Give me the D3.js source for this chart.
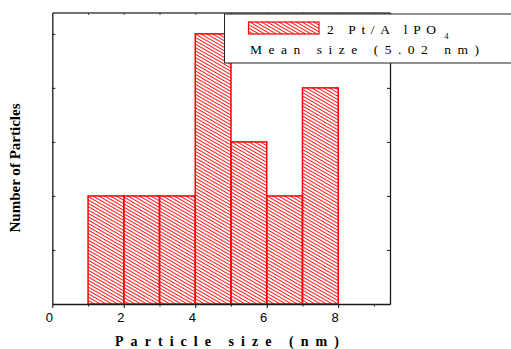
<!DOCTYPE html>
<html>
<head>
<meta charset="utf-8">
<script src="https://cdn.jsdelivr.net/npm/d3@7"></script>
<style>
  html, body { margin: 0; padding: 0; background: #fff; }
  svg { display: block; }
</style>
</head>
<body>
<svg id="chart" width="511" height="349"></svg>
<script>
// ---- data ----
const binStarts = [1, 2, 3, 4, 5, 6, 7];
const binEnds   = [2, 3, 4, 5, 6, 7, 8];
const counts    = [2, 2, 2, 5, 3, 2, 4];
const xMajorTicks = [0, 2, 4, 6, 8];
const xMinorTicks = [1, 3, 5, 7, 9];
const yTicks = [1, 2, 3, 4, 5];
const seriesLabel = "2 Pt/A lPO";
const seriesSub = "4";
const meanLabel = "Mean size (5.02 nm)";
const xTitle = "Particle size (nm)";
const yTitle = "Number of Particles";

// ---- layout ----
const svg = d3.select("#chart");
const L = 52.3, R = 390, T = 12.5, B = 304;
const x = d3.scaleLinear().domain([0, 9.45]).range([L, R]);
const y = d3.scaleLinear().domain([0, 5.395]).range([B, T]);
const red = "#ff0000";
const axisColor = "#1a1a1a";

// hatch pattern
const defs = svg.append("defs");
const pat = defs.append("pattern")
  .attr("id", "hatch")
  .attr("patternUnits", "userSpaceOnUse")
  .attr("width", 6).attr("height", 2.9)
  .attr("patternTransform", "rotate(30)");
pat.append("line")
  .attr("x1", 0).attr("y1", 1.45).attr("x2", 6).attr("y2", 1.45)
  .attr("stroke", red).attr("stroke-width", 0.9);

// bars
const bins = binStarts.map((s, i) => ({ s, e: binEnds[i], c: counts[i] }));
svg.append("g").selectAll("rect").data(bins).join("rect")
  .attr("x", d => x(d.s))
  .attr("y", d => y(d.c))
  .attr("width", d => x(d.e) - x(d.s))
  .attr("height", d => y(0) - y(d.c))
  .attr("fill", "url(#hatch)")
  .attr("stroke", red)
  .attr("stroke-width", 1.5);

// frame axes
const axBottom = d3.axisBottom(x).tickValues(xMajorTicks).tickSize(4).tickSizeOuter(0).tickFormat(d3.format("d"));
const gB = svg.append("g").attr("transform", `translate(0,${B})`).call(axBottom);
gB.select(".domain").attr("stroke", axisColor).attr("stroke-width", 1.3);
gB.selectAll(".tick line").attr("stroke", axisColor).attr("stroke-width", 1.1);
gB.selectAll(".tick text")
  .attr("font-family", "Liberation Sans, Arial, sans-serif")
  .attr("font-size", 13).attr("fill", "#000")
  .attr("dx", -3.5).attr("dy", 0).attr("y", 17.5);

const axBottomMinor = d3.axisBottom(x).tickValues(xMinorTicks).tickSize(2.5).tickFormat("");
const gBm = svg.append("g").attr("transform", `translate(0,${B})`).call(axBottomMinor);
gBm.select(".domain").remove();
gBm.selectAll(".tick line").attr("stroke", axisColor).attr("stroke-width", 1);

const axTop = d3.axisTop(x).tickValues(d3.range(1, 10)).tickSize(-2.5).tickSizeOuter(0).tickFormat("");
const gT = svg.append("g").attr("transform", `translate(0,${T})`).call(axTop);
gT.select(".domain").attr("stroke", "#444").attr("stroke-width", 1.3);
gT.selectAll(".tick line").attr("stroke", "#444").attr("stroke-width", 1);

const axLeft = d3.axisLeft(y).tickValues(yTicks).tickSize(-3).tickSizeOuter(0).tickFormat("");
const gL = svg.append("g").attr("transform", `translate(${L},0)`).call(axLeft);
gL.select(".domain").attr("stroke", axisColor).attr("stroke-width", 1.3);
gL.selectAll(".tick line").attr("stroke", axisColor).attr("stroke-width", 1);

const axRight = d3.axisRight(y).tickValues(yTicks).tickSize(-3).tickSizeOuter(0).tickFormat("");
const gR = svg.append("g").attr("transform", `translate(${R},0)`).call(axRight);
gR.select(".domain").attr("stroke", axisColor).attr("stroke-width", 1.3);
gR.selectAll(".tick line").attr("stroke", axisColor).attr("stroke-width", 1);

// legend box (extends past right edge)
const lg = svg.append("g");
lg.append("rect")
  .attr("x", 224.5).attr("y", 14).attr("width", 300).attr("height", 49)
  .attr("fill", "#fff").attr("stroke", "#222").attr("stroke-width", 1);
lg.append("rect")
  .attr("x", 248.5).attr("y", 22).attr("width", 70.5).attr("height", 12)
  .attr("fill", "url(#hatch)").attr("stroke", red).attr("stroke-width", 1.2);
lg.append("text")
  .attr("x", 327).attr("y", 33.5)
  .attr("font-family", "Liberation Serif, Times New Roman, serif")
  .attr("font-size", 13.5).attr("fill", "#000")
  .attr("textLength", 109).attr("lengthAdjust", "spacing")
  .attr("xml:space", "preserve")
  .text(seriesLabel);
lg.append("text")
  .attr("x", 444.5).attr("y", 38.5)
  .attr("font-family", "Liberation Serif, Times New Roman, serif")
  .attr("font-size", 8).attr("fill", "#000")
  .text(seriesSub);
lg.append("text")
  .attr("x", 250).attr("y", 53.5)
  .attr("font-family", "Liberation Serif, Times New Roman, serif")
  .attr("font-size", 13.5).attr("fill", "#000")
  .attr("textLength", 229).attr("lengthAdjust", "spacing")
  .attr("xml:space", "preserve")
  .text(meanLabel);

// axis titles
svg.append("text")
  .attr("x", 115).attr("y", 345.5)
  .attr("font-family", "Liberation Serif, Times New Roman, serif")
  .attr("font-weight", "bold").attr("font-size", 14).attr("fill", "#000")
  .attr("textLength", 224).attr("lengthAdjust", "spacing")
  .text(xTitle);
svg.append("text")
  .attr("transform", "translate(20,168) rotate(-90)")
  .attr("text-anchor", "middle")
  .attr("font-family", "Liberation Serif, Times New Roman, serif")
  .attr("font-weight", "bold").attr("font-size", 14).attr("fill", "#000")
  .attr("textLength", 129).attr("lengthAdjust", "spacingAndGlyphs")
  .text(yTitle);
</script>
</body>
</html>
